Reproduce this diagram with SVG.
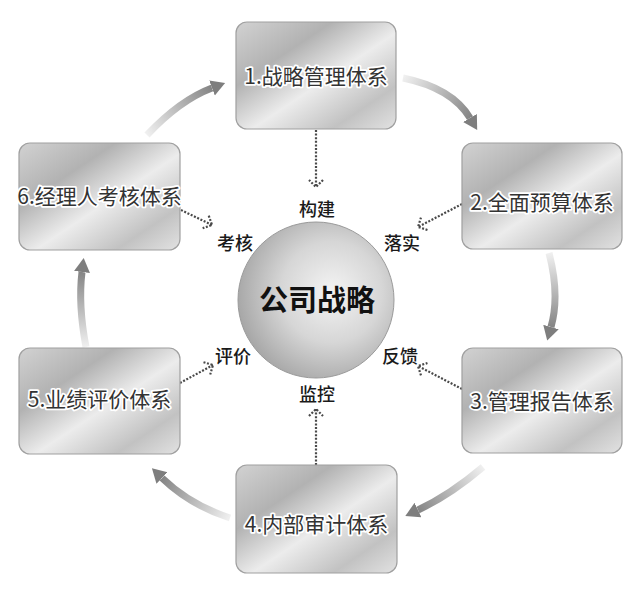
<svg xmlns="http://www.w3.org/2000/svg" width="640" height="605" viewBox="0 0 640 605">
<style>
.box{stroke:#a0a0a0;stroke-width:1.2;fill:url(#metal)}
.nt{font-family:"Noto Sans CJK SC","Liberation Sans",sans-serif;font-size:21px;fill:#333;stroke:#fff;stroke-width:3.5px;stroke-linejoin:round;paint-order:stroke;text-anchor:middle;dominant-baseline:central}
.lb{font-family:"Noto Sans CJK SC",sans-serif;font-size:18px;font-weight:500;fill:#1a1a1a;text-anchor:middle;dominant-baseline:central}
.dot{stroke:#4a4a4a;stroke-width:2.2;stroke-dasharray:2 1.6;fill:none;marker-end:url(#chev)}
.shaft{fill:none;stroke-width:7;stroke-linecap:butt;marker-end:url(#head)}
</style>
<defs>
<linearGradient id="metal" x1="0" y1="0" x2="1" y2="1">
<stop offset="0" stop-color="#d2d2d2"/>
<stop offset="0.3" stop-color="#b2b2b2"/>
<stop offset="0.55" stop-color="#ececec"/>
<stop offset="0.8" stop-color="#c2c2c2"/>
<stop offset="1" stop-color="#e2e2e2"/>
</linearGradient>
<radialGradient id="ball" cx="0.6" cy="0.45" r="0.65">
<stop offset="0" stop-color="#f4f4f4"/>
<stop offset="0.5" stop-color="#d6d6d6"/>
<stop offset="1" stop-color="#a0a0a0"/>
</radialGradient>
<marker id="head" markerUnits="userSpaceOnUse" viewBox="0 -9 16 18" refX="0" refY="0" markerWidth="16" markerHeight="18" orient="auto">
<path d="M0,-8 L14,0 L0,8 z" fill="#7e7e7e"/>
</marker>
<marker id="chev" markerUnits="userSpaceOnUse" viewBox="-10 -10 12 20" refX="0" refY="0" markerWidth="12" markerHeight="20" orient="auto" overflow="visible">
<path d="M-7,-7 L0,0 L-7,7" fill="none" stroke="#4a4a4a" stroke-width="2.2" stroke-dasharray="2 1.6"/>
</marker>
<linearGradient id="g12" gradientUnits="userSpaceOnUse" x1="403" y1="78" x2="470" y2="118"><stop offset="0" stop-color="#f0f0f0"/><stop offset="1" stop-color="#858585"/></linearGradient>
<linearGradient id="g23" gradientUnits="userSpaceOnUse" x1="549" y1="253" x2="551" y2="327"><stop offset="0" stop-color="#f0f0f0"/><stop offset="1" stop-color="#858585"/></linearGradient>
<linearGradient id="g34" gradientUnits="userSpaceOnUse" x1="483" y1="467" x2="418" y2="510"><stop offset="0" stop-color="#f0f0f0"/><stop offset="1" stop-color="#858585"/></linearGradient>
<linearGradient id="g45" gradientUnits="userSpaceOnUse" x1="230" y1="518" x2="162" y2="478"><stop offset="0" stop-color="#f0f0f0"/><stop offset="1" stop-color="#858585"/></linearGradient>
<linearGradient id="g56" gradientUnits="userSpaceOnUse" x1="86" y1="347" x2="82" y2="272"><stop offset="0" stop-color="#f0f0f0"/><stop offset="1" stop-color="#858585"/></linearGradient>
<linearGradient id="g61" gradientUnits="userSpaceOnUse" x1="147" y1="135" x2="212" y2="88"><stop offset="0" stop-color="#f0f0f0"/><stop offset="1" stop-color="#858585"/></linearGradient>
</defs>
<rect width="640" height="605" fill="#fff"/>
<g id="connectors">
<path class="shaft" stroke="url(#g12)" d="M403,78 Q452,88 470,118"/>
<path class="shaft" stroke="url(#g23)" d="M549,253 Q560,295 551,327"/>
<path class="shaft" stroke="url(#g34)" d="M483,467 Q450,495 418,510"/>
<path class="shaft" stroke="url(#g45)" d="M230,518 Q190,505 162,478"/>
<path class="shaft" stroke="url(#g56)" d="M86,347 Q78,305 82,272"/>
<path class="shaft" stroke="url(#g61)" d="M147,135 Q180,100 212,88"/>
<path class="dot" d="M316,130 L316,187"/>
<path class="dot" d="M181,210 L212,225"/>
<path class="dot" d="M462,204 L418,227"/>
<path class="dot" d="M462,389 L418,366"/>
<path class="dot" d="M180,383 L213,365"/>
<path class="dot" d="M316,465 L316,409"/>
</g>
<g id="n1"><rect class="box" x="236" y="22" width="160" height="107" rx="11"/><text class="nt" x="316" y="75">1.战略管理体系</text></g>
<g id="n2"><rect class="box" x="462" y="143" width="160" height="106" rx="11"/><text class="nt" x="542" y="201">2.全面预算体系</text></g>
<g id="n3"><rect class="box" x="462" y="348" width="160" height="105" rx="11"/><text class="nt" x="542" y="400">3.管理报告体系</text></g>
<g id="n4"><rect class="box" x="236" y="465" width="161" height="108" rx="11"/><text class="nt" x="316.5" y="523">4.内部审计体系</text></g>
<g id="n5"><rect class="box" x="19" y="348" width="161" height="106" rx="11"/><text class="nt" x="99.5" y="398">5.业绩评价体系</text></g>
<g id="n6"><rect class="box" x="19" y="143" width="161" height="107" rx="11"/><text class="nt" x="99.5" y="195">6.经理人考核体系</text></g>
<g id="center"><circle cx="316" cy="300" r="78" fill="url(#ball)" stroke="#9a9a9a" stroke-width="1"/><text x="317" y="298" font-family="Noto Sans CJK SC,sans-serif" font-size="29" font-weight="bold" fill="#111" text-anchor="middle" dominant-baseline="central">公司战略</text></g>
<g id="labels">
<text class="lb" x="317" y="208">构建</text>
<text class="lb" x="235" y="242">考核</text>
<text class="lb" x="402" y="242">落实</text>
<text class="lb" x="233" y="355">评价</text>
<text class="lb" x="400" y="355">反馈</text>
<text class="lb" x="317" y="393">监控</text>
</g>
</svg>
